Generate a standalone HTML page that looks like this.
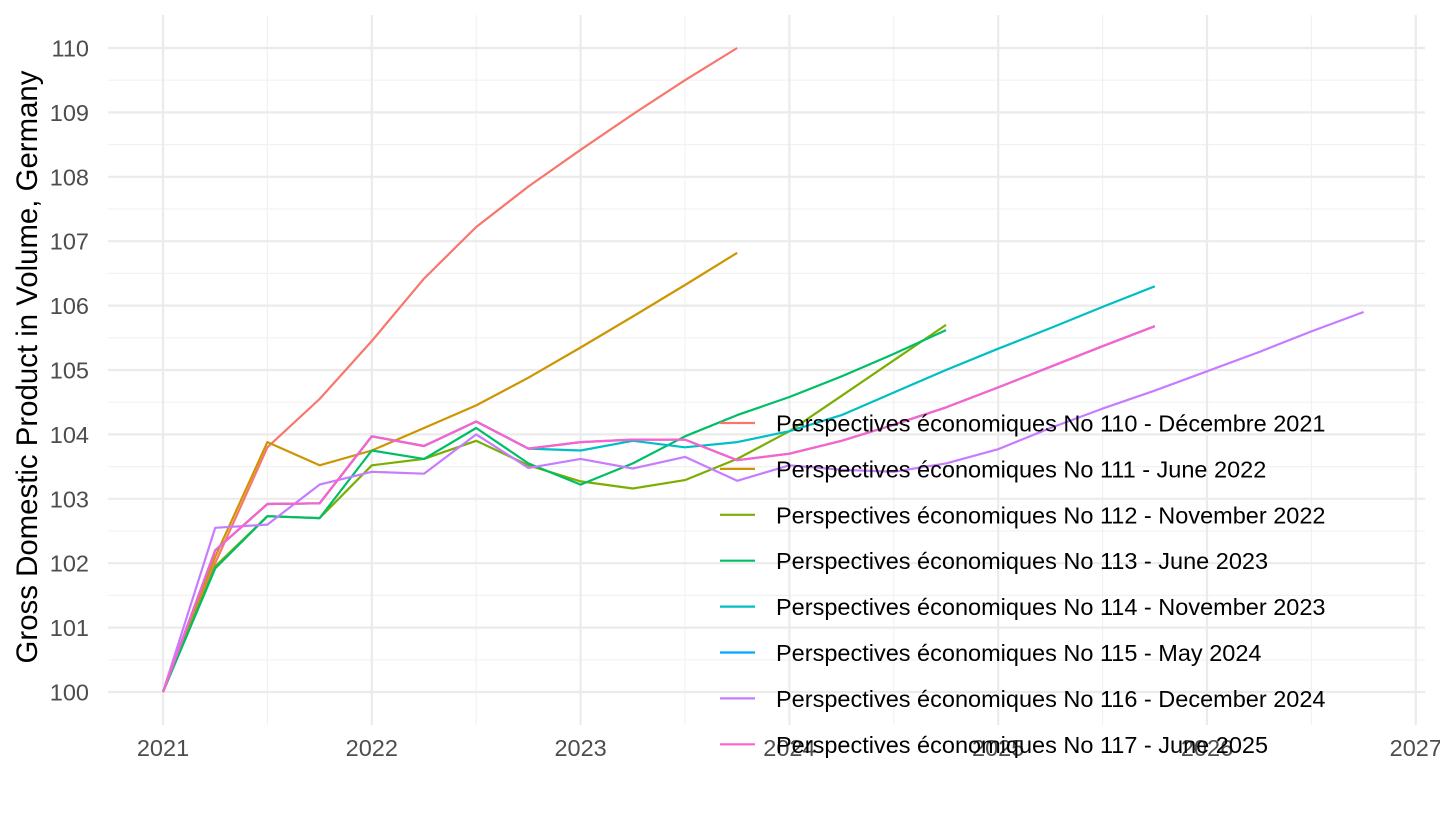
<!DOCTYPE html>
<html><head><meta charset="utf-8"><style>
body{margin:0;background:#fff;}
svg text{font-family:"Liberation Sans",Arial,sans-serif;}
</style></head><body>
<svg id="chart" width="1440" height="810" xmlns="http://www.w3.org/2000/svg">
<g id="grid"></g>
<g id="axes"></g>
<g id="series"></g>
<g id="legend"></g>
<text transform="translate(37,367) rotate(-90)" text-anchor="middle" font-size="29.4" fill="#000">Gross Domestic Product in Volume, Germany</text>
</svg>
<script>
const seriesNames = ["Perspectives économiques No 110 - Décembre 2021","Perspectives économiques No 111 - June 2022","Perspectives économiques No 112 - November 2022","Perspectives économiques No 113 - June 2023","Perspectives économiques No 114 - November 2023","Perspectives économiques No 115 - May 2024","Perspectives économiques No 116 - December 2024","Perspectives économiques No 117 - June 2025"];
const colors = ["#F8766D","#CD9600","#7CAE00","#00BE67","#00BFC4","#00A9FF","#C77CFF","#FF61CC"];
const startYear = 2021;
const s110 = [100,102.0,103.8,104.55,105.45,106.42,107.22,107.85,108.42,108.97,109.5,110.0];
const s111 = [100,102.1,103.88,103.52,103.75,104.1,104.45,104.88,105.35,105.83,106.32,106.82];
const s112 = [100,101.95,102.73,102.7,103.52,103.62,103.9,103.52,103.27,103.16,103.29,103.62,104.05,104.6,105.15,105.7];
const s113 = [100,101.92,102.73,102.7,103.75,103.62,104.1,103.55,103.22,103.55,103.97,104.3,104.58,104.9,105.25,105.62];
const s114 = [100,102.2,102.92,102.93,103.97,103.82,104.2,103.78,103.75,103.9,103.8,103.88,104.05,104.3,104.65,105.0,105.33,105.65,105.98,106.3];
const s115 = [100,102.2,102.92,102.93,103.97,103.82,104.2,103.78,103.88,103.92,103.92,103.6,103.7,103.9,104.15,104.42,104.73,105.05,105.37,105.68];
const s116 = [100,102.55,102.6,103.22,103.42,103.39,104.0,103.48,103.62,103.47,103.65,103.28,103.52,103.45,103.42,103.55,103.77,104.1,104.4,104.68,104.98,105.28,105.6,105.9];
const s117 = [100,102.2,102.92,102.93,103.97,103.82,104.2,103.78,103.88,103.92,103.92,103.6,103.7,103.9,104.15,104.42,104.73,105.05,105.37,105.68];
const allSeries = [s110,s111,s112,s113,s114,s115,s116,s117];
const xTicks = [2021,2022,2023,2024,2025,2026,2027];
const yTicks = [100,101,102,103,104,105,106,107,108,109,110];

const NS="http://www.w3.org/2000/svg";
const x = t => 163 + (t-2021)*208.8;
const y = v => 692 - (v-100)*64.4;
const L=108,R=1425,T=15,B=725;
function mk(tag,attrs,parent){const e=document.createElementNS(NS,tag);for(const k in attrs)e.setAttribute(k,attrs[k]);parent.appendChild(e);return e;}
const grid=document.getElementById('grid'),axes=document.getElementById('axes'),ser=document.getElementById('series'),leg=document.getElementById('legend');
for(let i=0;i<xTicks.length-1;i++){const xm=x(xTicks[i]+0.5);const l=mk('line',{x1:xm,x2:xm,y1:T,y2:B,stroke:'#f2f2f2','stroke-width':1.2},grid);

}
for(let i=0;i<yTicks.length-1;i++){const ym=y(yTicks[i]+0.5);const l=mk('line',{x1:L,x2:R,y1:ym,y2:ym,stroke:'#f2f2f2','stroke-width':1.2},grid);

}
xTicks.forEach(t=>{const l=mk('line',{x1:x(t),x2:x(t),y1:T,y2:B,stroke:'#ebebeb','stroke-width':2.2},grid);


const tx=mk('text',{x:x(t),y:756,'text-anchor':'middle','font-size':23.5,fill:'#4d4d4d'},axes);tx.textContent=t;

});
yTicks.forEach(v=>{const l=mk('line',{x1:L,x2:R,y1:y(v),y2:y(v),stroke:'#ebebeb','stroke-width':2.2},grid);


const tx=mk('text',{x:89,y:y(v)+8.5,'text-anchor':'end','font-size':23.5,fill:'#4d4d4d'},axes);tx.textContent=v;

});
allSeries.forEach((s,k)=>{const pts=s.map((v,i)=>x(startYear+i/4).toFixed(1)+','+y(v).toFixed(1)).join(' ');
const p=mk('polyline',{points:pts,fill:'none',stroke:colors[k],'stroke-width':2.2,'stroke-linejoin':'round'},ser);

});
seriesNames.forEach((n,k)=>{const yy=423+k*45.9;
const g=mk('g',{},leg);


mk('line',{x1:720,x2:755,y1:yy,y2:yy,stroke:colors[k],'stroke-width':2.2},g);
const t=mk('text',{x:776,y:yy+8.5,'font-size':23.5,fill:'#000'},g);t.textContent=n;});
</script>
</body></html>
